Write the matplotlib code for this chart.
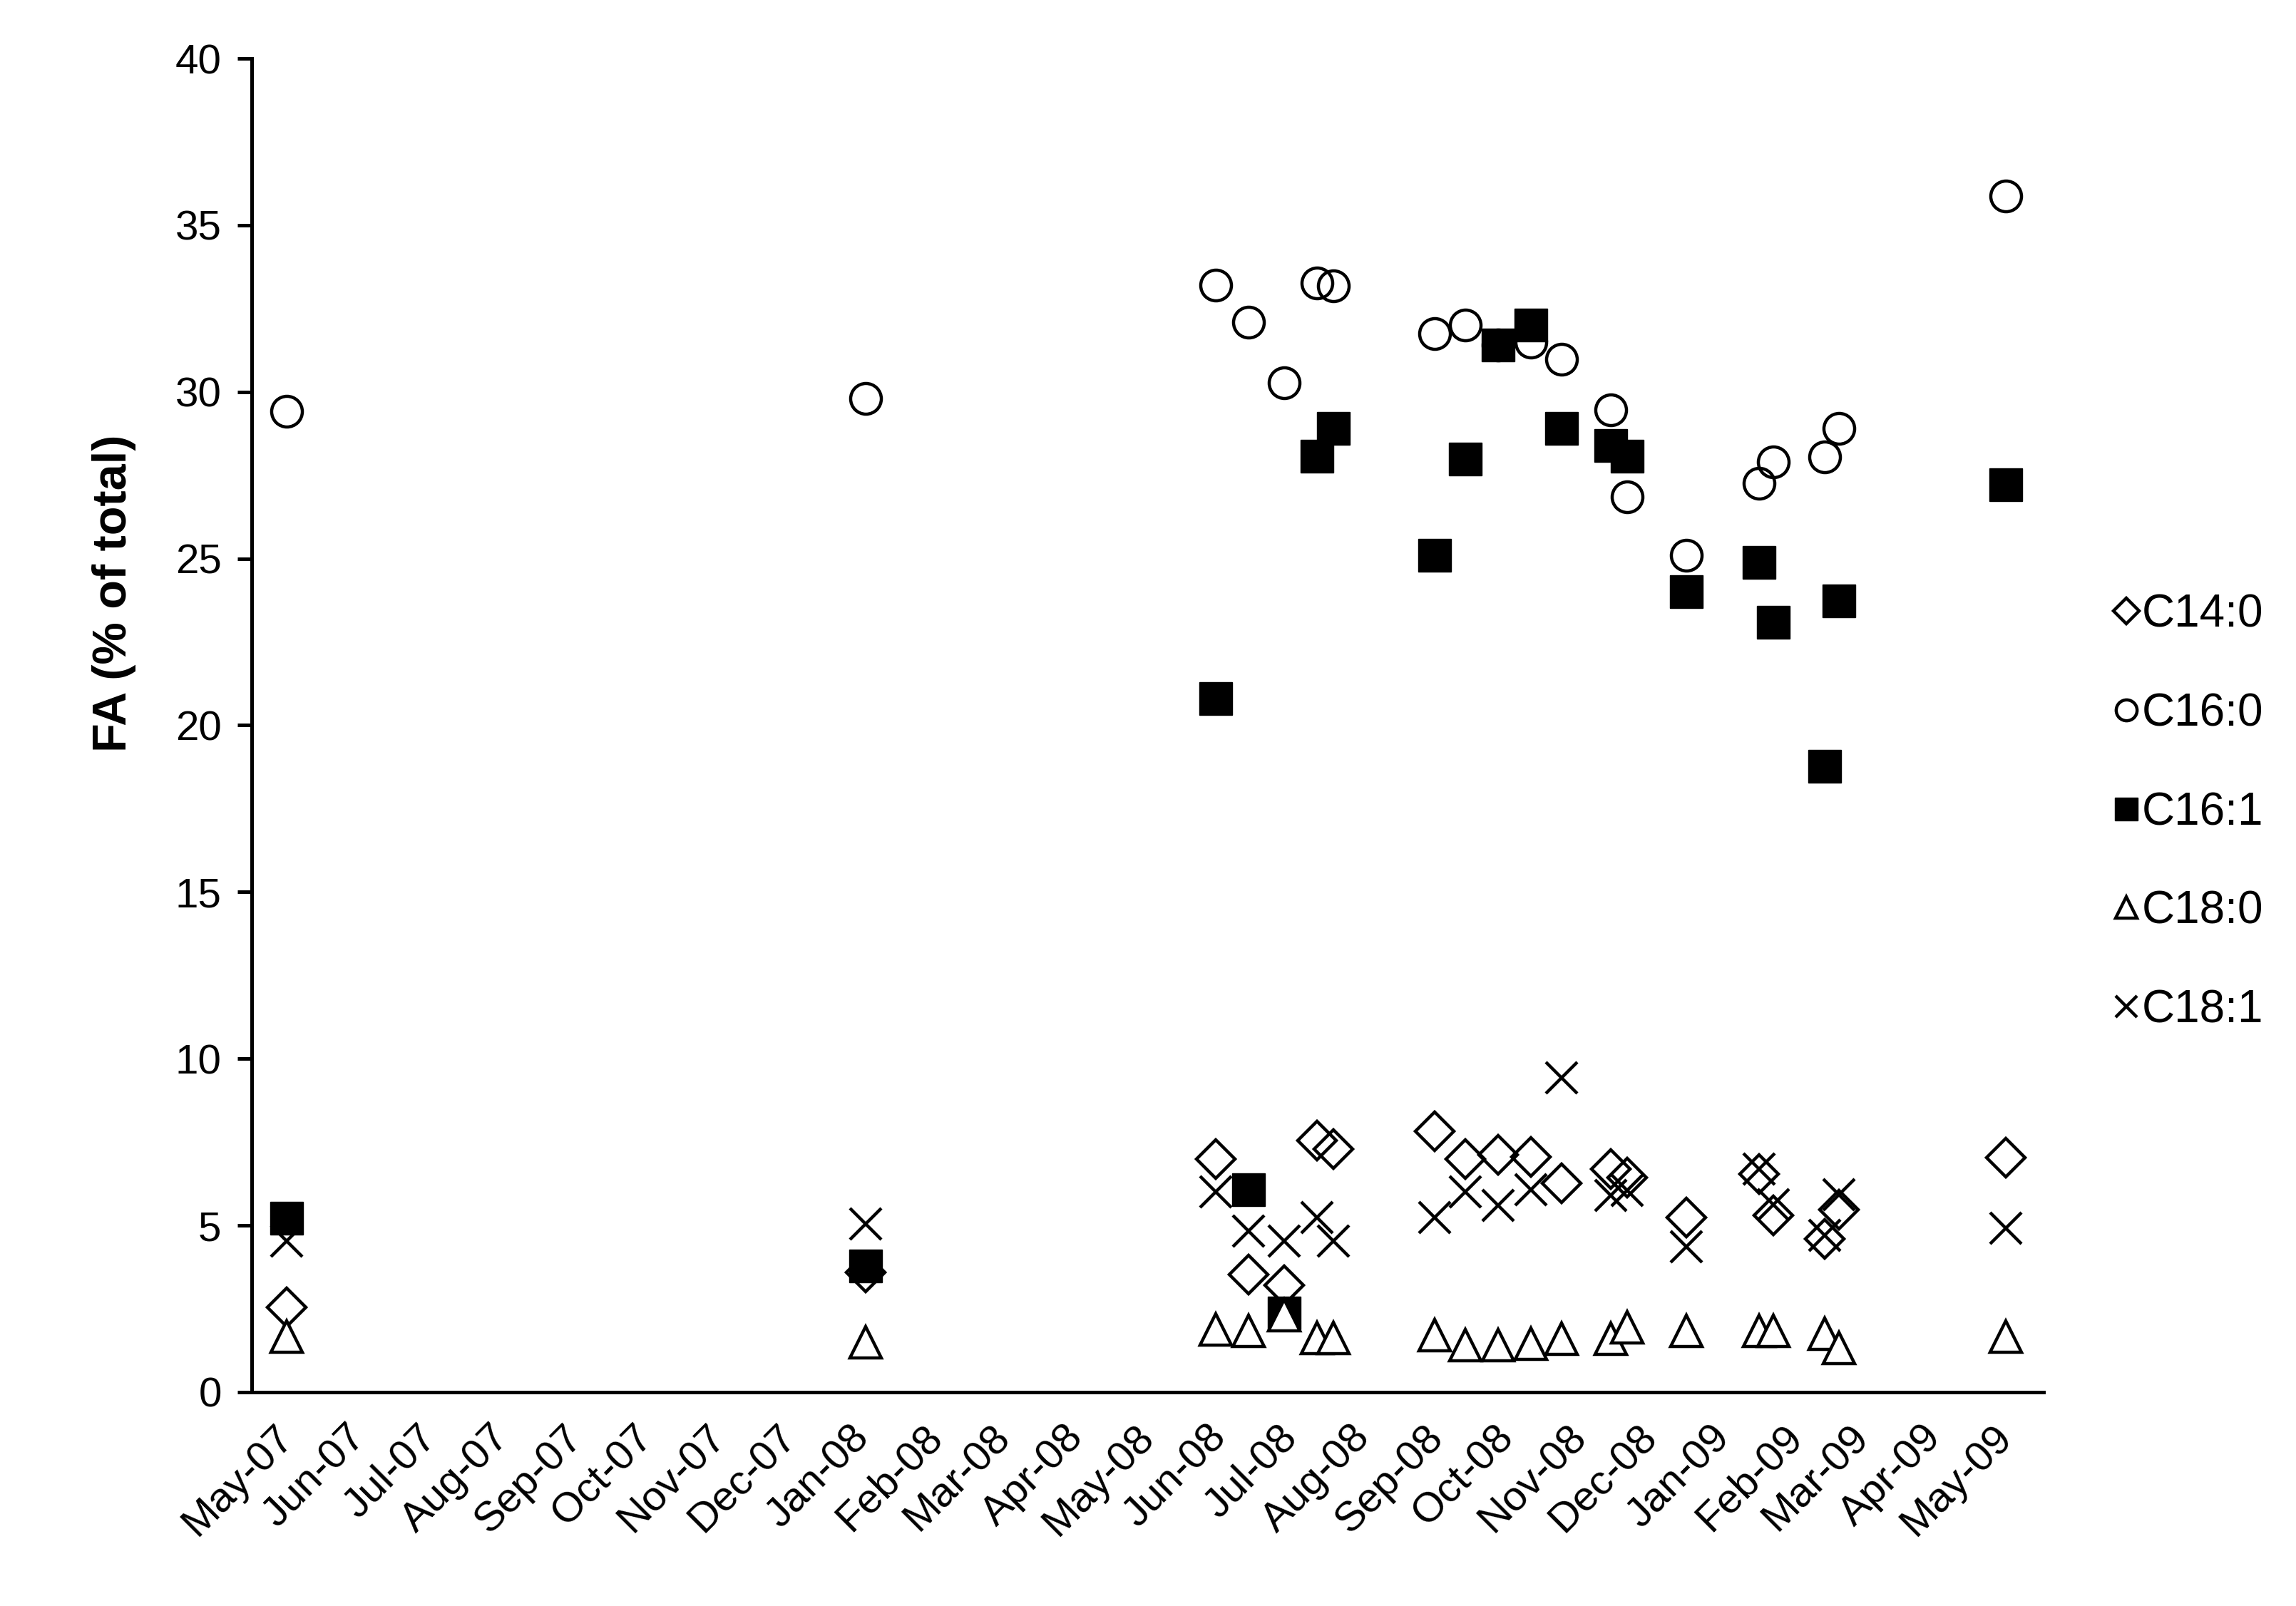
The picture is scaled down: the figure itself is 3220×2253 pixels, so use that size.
import datetime as dt
import matplotlib
matplotlib.use("Agg")
import matplotlib.pyplot as plt
import matplotlib.dates as mdates

# sampling dates
sample_dates = ["2007-05-01", "2008-01-02", "2008-05-30", "2008-06-13", "2008-06-28",
                "2008-07-12", "2008-07-19", "2008-08-31", "2008-09-13", "2008-09-27",
                "2008-10-11", "2008-10-24", "2008-11-14", "2008-11-21", "2008-12-16",
                "2009-01-16", "2009-01-22", "2009-02-13", "2009-02-19", "2009-05-01"]

c14_0 = [2.55, 3.6, 6.98, 3.52, 3.2, 7.55, 7.28, 7.83, 6.98, 7.12,
         7.05, 6.26, 6.69, 6.44, 5.23, 6.55, 5.3, 4.6, 5.48, 7.03]
c16_0 = [29.42, 29.81, 33.2, 32.08, 30.28, 33.27, 33.18, 31.74, 32.0, 31.4,
         31.49, 30.97, 29.46, 26.86, 25.09, 27.26, 27.9, 28.04, 28.91, 35.87]
c16_1 = [5.22, 3.78, 20.81, 6.08, 2.38, 28.06, 28.91, 25.1, 27.98, 31.4,
         32.0, 28.91, 28.4, 28.06, 24.0, 24.88, 23.08, 18.77, 23.74, 27.22]
c18_0 = [1.67, 1.49, 1.89, 1.84, 2.3, 1.62, 1.62, 1.71, 1.4, 1.4,
         1.45, 1.6, 1.6, 1.95, 1.84, 1.84, 1.84, 1.76, 1.32, 1.67]
c18_1 = [4.52, 5.05, 6.0, 4.82, 4.54, 5.23, 4.54, 5.23, 6.0, 5.59,
         6.08, 9.43, 5.9, 6.05, 4.37, 6.7, 5.62, 4.7, 5.91, 4.92]

labels = ["C14:0", "C16:0", "C16:1", "C18:0", "C18:1"]

plt.rcParams['font.family'] = ['Liberation Sans', 'DejaVu Sans']

dates = [dt.datetime.strptime(d, "%Y-%m-%d") for d in sample_dates]

fig = plt.figure(figsize=(16.1, 11.265), dpi=200)
ax = fig.add_axes([0.1096, 0.1332, 0.7804, 0.8304])

ax.plot(dates, c14_0, ls='none', marker='D', ms=13.5, mfc='none', mec='black', mew=1.6, label=labels[0])
ax.plot(dates, c16_0, ls='none', marker='o', ms=15.5, mfc='none', mec='black', mew=1.6, label=labels[1])
ax.plot(dates, c16_1, ls='none', marker='s', ms=16.8, mfc='black', mec='black', mew=0.5, label=labels[2])
ax.plot(dates, c18_0, ls='none', marker='^', ms=15.5, mfc='white', mec='black', mew=1.6, label=labels[3])
ax.plot(dates, c18_1, ls='none', marker='x', ms=15.5, mec='black', mew=1.6, label=labels[4])

ax.set_xlim(dt.datetime(2007, 4, 16), dt.datetime(2009, 5, 17))
ax.set_ylim(0, 40)
ax.set_yticks(range(0, 41, 5))

ax.xaxis.set_major_locator(mdates.MonthLocator())
ax.xaxis.set_major_formatter(mdates.DateFormatter('%b-%y'))
ax.tick_params(axis='x', length=0, pad=20, labelsize=21)
ax.tick_params(axis='y', length=7.2, width=1.8, pad=8, labelsize=21, direction='out')
for lbl in ax.get_xticklabels():
    lbl.set_rotation(45)
    lbl.set_ha('right')
    lbl.set_va('center')
    lbl.set_rotation_mode('anchor')

ax.spines['top'].set_visible(False)
ax.spines['right'].set_visible(False)
ax.spines['left'].set_linewidth(1.8)
ax.spines['bottom'].set_linewidth(1.8)

fig.text(160 / 3220, 1 - 832 / 2253, "FA (% of total)", rotation=90, ha='center', va='center',
         fontsize=24, fontweight='bold')

ax.legend(loc='center left', bbox_to_anchor=(0.9215, 0.494), bbox_transform=fig.transFigure,
          frameon=False, fontsize=23, markerscale=0.68, handlelength=0.45, handletextpad=0.12,
          labelspacing=1.23, borderpad=0, borderaxespad=0)

fig.savefig("out.png", dpi=200)
